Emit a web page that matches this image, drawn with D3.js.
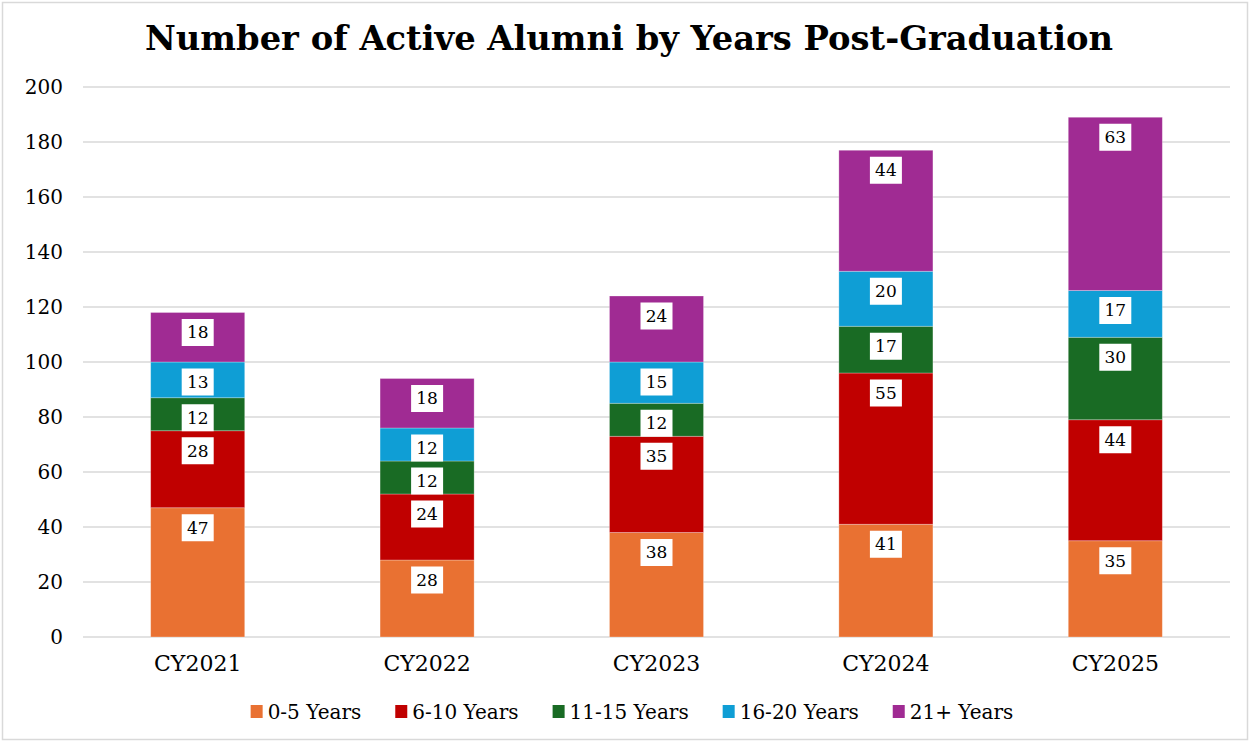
<!DOCTYPE html>
<html>
<head>
<meta charset="utf-8">
<title>Number of Active Alumni by Years Post-Graduation</title>
<style>
  body { margin: 0; background: #fff; }
  svg text { font-family: Georgia, "DejaVu Serif", serif; fill: #000; }
</style>
</head>
<body>
<svg width="1250" height="742"></svg>
<script src="https://d3js.org/d3.v7.min.js"></script>
<script>
// data
var years = ["CY2021", "CY2022", "CY2023", "CY2024", "CY2025"];
var groups = ["0-5 Years", "6-10 Years", "11-15 Years", "16-20 Years", "21+ Years"];
var zeroToFive   = [47, 28, 38, 41, 35];
var sixToTen     = [28, 24, 35, 55, 44];
var elevenToFift = [12, 12, 12, 17, 30];
var sixteenToTw  = [13, 12, 15, 20, 17];
var twentyOnePl  = [18, 18, 24, 44, 63];
var yTicks = [0, 20, 40, 60, 80, 100, 120, 140, 160, 180, 200];
var colors = ["#E97132", "#C00000", "#196B24", "#0F9ED5", "#A02B93"];

var series = [zeroToFive, sixToTen, elevenToFift, sixteenToTw, twentyOnePl];
var rows = years.map(function (y, i) {
    var r = { year: y };
    groups.forEach(function (g, j) { r[g] = series[j][i]; });
    return r;
});

var svg = d3.select("svg"),
    width = +svg.attr("width"),
    height = +svg.attr("height");

// outer frame
svg.append("rect")
    .attr("x", 2.5).attr("y", 2.5)
    .attr("width", width - 5).attr("height", height - 5)
    .attr("fill", "#fff")
    .attr("stroke", "#d9d9d9")
    .attr("stroke-width", 1.5);

var x = d3.scaleBand()
    .domain(years)
    .range([83, 1230])
    .paddingInner(0.59)
    .paddingOuter(0.295);

var y = d3.scaleLinear()
    .domain([0, 200])
    .range([637, 87]);

var color = d3.scaleOrdinal().domain(groups).range(colors);

// title
svg.append("text")
    .attr("x", 629)
    .attr("y", 50)
    .attr("text-anchor", "middle")
    .attr("font-size", 33)
    .attr("font-weight", "bold")
    .attr("textLength", 968)
    .attr("lengthAdjust", "spacingAndGlyphs")
    .text("Number of Active Alumni by Years Post-Graduation");

// gridlines
svg.append("g")
    .selectAll("line")
    .data(yTicks)
    .enter().append("line")
    .attr("x1", 83).attr("x2", 1230)
    .attr("y1", function (d) { return y(d); })
    .attr("y2", function (d) { return y(d); })
    .attr("stroke", "#d9d9d9")
    .attr("stroke-width", 1.3);

// y axis labels
var yAxis = svg.append("g")
    .attr("transform", "translate(63,0)")
    .call(d3.axisLeft(y).tickValues(yTicks).tickSize(0).tickPadding(0));
yAxis.select(".domain").remove();
yAxis.selectAll("text")
    .attr("font-family", "Georgia, 'DejaVu Serif', serif")
    .attr("font-size", 20)
    .attr("fill", "#000");

// x axis labels
var xAxis = svg.append("g")
    .attr("transform", "translate(0,651)")
    .call(d3.axisBottom(x).tickSize(0).tickPadding(4));
xAxis.select(".domain").remove();
xAxis.selectAll("text")
    .attr("font-family", "Georgia, 'DejaVu Serif', serif")
    .attr("font-size", 22)
    .attr("fill", "#000");

var stacked = d3.stack().keys(groups)(rows);

var layer = svg.append("g")
    .selectAll("g")
    .data(stacked)
    .enter().append("g")
    .attr("fill", function (d) { return color(d.key); });

layer.selectAll("rect")
    .data(function (d) { return d; })
    .enter().append("rect")
    .attr("x", function (d) { return x(d.data.year); })
    .attr("y", function (d) { return y(d[1]); })
    .attr("width", x.bandwidth())
    .attr("height", function (d) { return y(d[0]) - y(d[1]); })
    .attr("stroke", "rgba(255,255,255,0.35)")
    .attr("stroke-width", 0.8);

// data labels (inside end, white boxes)
var labels = layer.selectAll("g.lbl")
    .data(function (d) { return d; })
    .enter().append("g")
    .attr("class", "lbl")
    .attr("transform", function (d) {
        return "translate(" + (x(d.data.year) + x.bandwidth() / 2) + "," + (y(d[1]) + 20) + ")";
    });

labels.append("rect")
    .attr("x", -16).attr("y", -13.5)
    .attr("width", 32).attr("height", 27)
    .attr("fill", "#fff");

labels.append("text")
    .attr("text-anchor", "middle")
    .attr("dy", "0.35em")
    .attr("font-size", 17)
    .text(function (d) { return d[1] - d[0]; });

// legend
var legend = svg.append("g").attr("transform", "translate(0,712)");
var items = legend.selectAll("g")
    .data(groups)
    .enter().append("g");
items.append("rect")
    .attr("y", -7)
    .attr("width", 12).attr("height", 13)
    .attr("fill", function (d) { return color(d); });
items.append("text")
    .attr("x", 17)
    .attr("dy", "0.35em")
    .attr("font-size", 20)
    .text(function (d) { return d; });

var gap = 34, pos = 0, offs = [];
items.each(function () {
    offs.push(pos);
    pos += this.getBBox().width + gap;
});
var total = pos - gap;
var start = 632 - total / 2;
items.attr("transform", function (d, i) { return "translate(" + (start + offs[i]) + ",0)"; });
</script>
</body>
</html>
